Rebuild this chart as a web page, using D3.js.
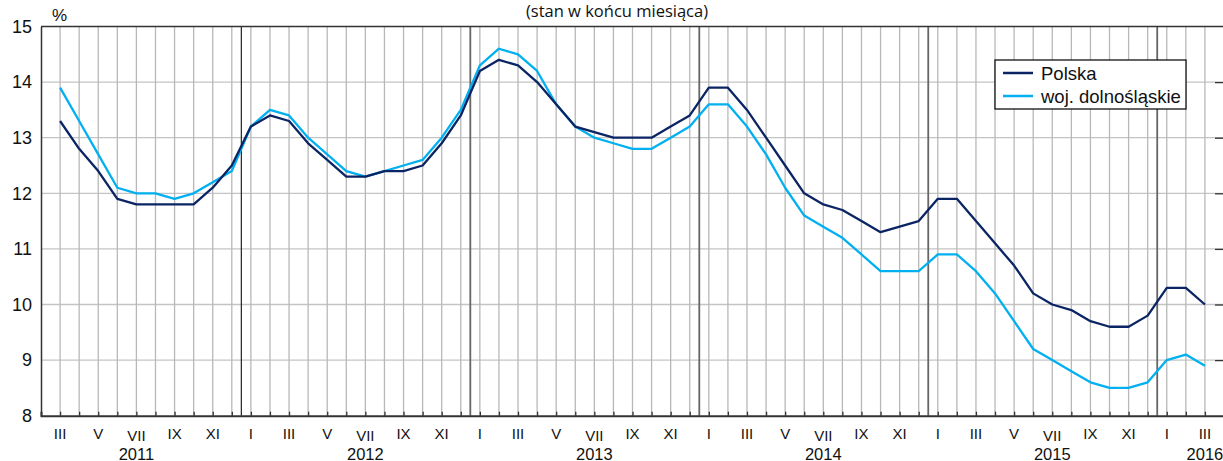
<!DOCTYPE html>
<html>
<head>
<meta charset="utf-8">
<script src="https://cdn.jsdelivr.net/npm/d3@7"></script>
<style>
html,body{margin:0;padding:0;background:#fff;}
svg{display:block;}
svg text{font-family:"Liberation Sans",Arial,sans-serif;}
svg text.title{font-family:"Open Sans","Noto Sans",sans-serif;}
</style>
</head>
<body>
<svg id="chart" width="1223" height="461"></svg>
<script>
// ---- data ----
const monthLabels = ["III","IV","V","VI","VII","VIII","IX","X","XI","XII",
  "I","II","III","IV","V","VI","VII","VIII","IX","X","XI","XII",
  "I","II","III","IV","V","VI","VII","VIII","IX","X","XI","XII",
  "I","II","III","IV","V","VI","VII","VIII","IX","X","XI","XII",
  "I","II","III","IV","V","VI","VII","VIII","IX","X","XI","XII",
  "I","II","III"];
const years = [2011, 2012, 2013, 2014, 2015, 2016];
const yearLabelAt = ["VII","VII","VII","VII","VII","III"];
const polska = [13.3,12.8,12.4,11.9,11.8,11.8,11.8,11.8,12.1,12.5,
  13.2,13.4,13.3,12.9,12.6,12.3,12.3,12.4,12.4,12.5,12.9,13.4,
  14.2,14.4,14.3,14.0,13.6,13.2,13.1,13.0,13.0,13.0,13.2,13.4,
  13.9,13.9,13.5,13.0,12.5,12.0,11.8,11.7,11.5,11.3,11.4,11.5,
  11.9,11.9,11.5,11.1,10.7,10.2,10.0,9.9,9.7,9.6,9.6,9.8,
  10.3,10.3,10.0];
const dolnoslaskie = [13.9,13.3,12.7,12.1,12.0,12.0,11.9,12.0,12.2,12.4,
  13.2,13.5,13.4,13.0,12.7,12.4,12.3,12.4,12.5,12.6,13.0,13.5,
  14.3,14.6,14.5,14.2,13.6,13.2,13.0,12.9,12.8,12.8,13.0,13.2,
  13.6,13.6,13.2,12.7,12.1,11.6,11.4,11.2,10.9,10.6,10.6,10.6,
  10.9,10.9,10.6,10.2,9.7,9.2,9.0,8.8,8.6,8.5,8.5,8.6,
  9.0,9.1,8.9];
const yTicks = [8,9,10,11,12,13,14,15];
const seriesNames = ["Polska","woj. dolnośląskie"];
const seriesColors = ["#0b2463","#00b0f0"];
const titleText = "(stan w końcu miesiąca)";

(function(){
const FONT = "Liberation Sans, Arial, sans-serif";
const svg = d3.select("#chart");
const pL = 41, pR = 1224, pT = 26.5, pB = 415.7;
const n = monthLabels.length;
const x = d3.scaleLinear().domain([-1, n]).range([pL, pR]);
const y = d3.scaleLinear().domain([8, 15]).range([pB, pT]);
const idx = d3.range(n);

let yearIdx = [], yi = 0;
idx.forEach(i => { if (i > 0 && monthLabels[i] === "I") yi++; yearIdx.push(yi); });
const yearBreaks = idx.filter(i => i > 0 && monthLabels[i] === "I").map(i => i - 0.5);

// horizontal grid
svg.append("g").selectAll("line").data(yTicks.filter(v => v > 8 && v < 15)).join("line")
  .attr("x1", pL).attr("x2", pR).attr("y1", d => y(d)).attr("y2", d => y(d))
  .attr("stroke", "#c4c4c4").attr("stroke-width", 1.3);

// vertical grid
svg.append("g").selectAll("line").data(idx).join("line")
  .attr("x1", d => x(d)).attr("x2", d => x(d)).attr("y1", pT).attr("y2", pB)
  .attr("stroke", "#b8b8b8").attr("stroke-width", 1.3);

// year separators
svg.append("g").selectAll("line").data(yearBreaks).join("line")
  .attr("x1", d => x(d)).attr("x2", d => x(d)).attr("y1", pT).attr("y2", pB)
  .attr("stroke", (d, i) => i === 0 ? "#222" : "#666").attr("stroke-width", (d, i) => i === 0 ? 1.2 : 1.8);

// bottom axis with inward ticks
const xAxis = d3.axisBottom(x).tickValues(idx).tickSize(-4).tickFormat("");
const gx = svg.append("g").attr("transform", `translate(0,${pB})`).call(xAxis);
gx.select(".domain").attr("stroke", "#333").attr("stroke-width", 2);
gx.selectAll(".tick line").attr("stroke", "#333").attr("stroke-width", 1.3);

// left axis
const yAxis = d3.axisLeft(y).tickValues(yTicks).tickSize(0).tickPadding(9).tickFormat(d3.format("d"));
const gy = svg.append("g").attr("transform", `translate(${pL},0)`).call(yAxis)
  .attr("font-family", FONT).attr("font-size", 18);
gy.select(".domain").attr("stroke", "#333").attr("stroke-width", 1.5);
gy.selectAll(".tick text").attr("fill", "#111");

// right axis inward ticks
const yAxisR = d3.axisLeft(y).tickValues(yTicks.filter(v => v > 8 && v < 15)).tickSize(8).tickFormat("");
const gyr = svg.append("g").attr("transform", `translate(${1223},0)`).call(yAxisR);
gyr.select(".domain").remove();
gyr.selectAll(".tick line").attr("stroke", "#333").attr("stroke-width", 1.3);

// top border
svg.append("line").attr("x1", pL).attr("x2", pR).attr("y1", pT).attr("y2", pT)
  .attr("stroke", "#333").attr("stroke-width", 1.5);

// month labels (odd months)
const oddMonths = ["I","III","V","VII","IX","XI"];
svg.append("g").selectAll("text")
  .data(idx.filter(i => oddMonths.includes(monthLabels[i]))).join("text")
  .attr("x", d => x(d)).attr("y", d => monthLabels[d] === "VII" ? 440.5 : 439)
  .attr("text-anchor", "middle").attr("font-size", 15).attr("fill", "#111")
  .text(d => monthLabels[d]);

// year labels
svg.append("g").selectAll("text").data(years).join("text")
  .attr("x", (d, k) => x(idx.find(i => yearIdx[i] === k && monthLabels[i] === yearLabelAt[k])))
  .attr("y", 459.5).attr("text-anchor", "middle").attr("font-size", 16.5).attr("fill", "#111")
  .text(d => d);

// % label
svg.append("text").attr("x", 52).attr("y", 21)
  .attr("font-size", 17).attr("fill", "#111").text("%");

// title
svg.append("text").attr("class", "title").attr("x", 617).attr("y", 17).attr("text-anchor", "middle")
  .attr("font-size", 16.5).attr("fill", "#111")
  .text(titleText);

// lines
const line = d3.line().x((d, i) => x(i)).y(d => y(d));
svg.append("path").datum(dolnoslaskie).attr("d", line).attr("fill", "none")
  .attr("stroke", seriesColors[1]).attr("stroke-width", 2.3).attr("stroke-linejoin", "round");
svg.append("path").datum(polska).attr("d", line).attr("fill", "none")
  .attr("stroke", seriesColors[0]).attr("stroke-width", 2.3).attr("stroke-linejoin", "round");

// legend
const lg = svg.append("g");
lg.append("rect").attr("x", 995).attr("y", 60).attr("width", 191).attr("height", 49)
  .attr("fill", "#fff").attr("stroke", "#111").attr("stroke-width", 1.3);
seriesNames.forEach((name, k) => {
  const yy = 73 + k * 23;
  lg.append("line").attr("x1", 1003).attr("x2", 1033).attr("y1", yy).attr("y2", yy)
    .attr("stroke", seriesColors[k]).attr("stroke-width", 2.5);
  lg.append("text").attr("x", 1041).attr("y", yy + 6.5).attr("font-size", 18.5).attr("fill", "#111").text(name);
});
})();
</script>
</body>
</html>
